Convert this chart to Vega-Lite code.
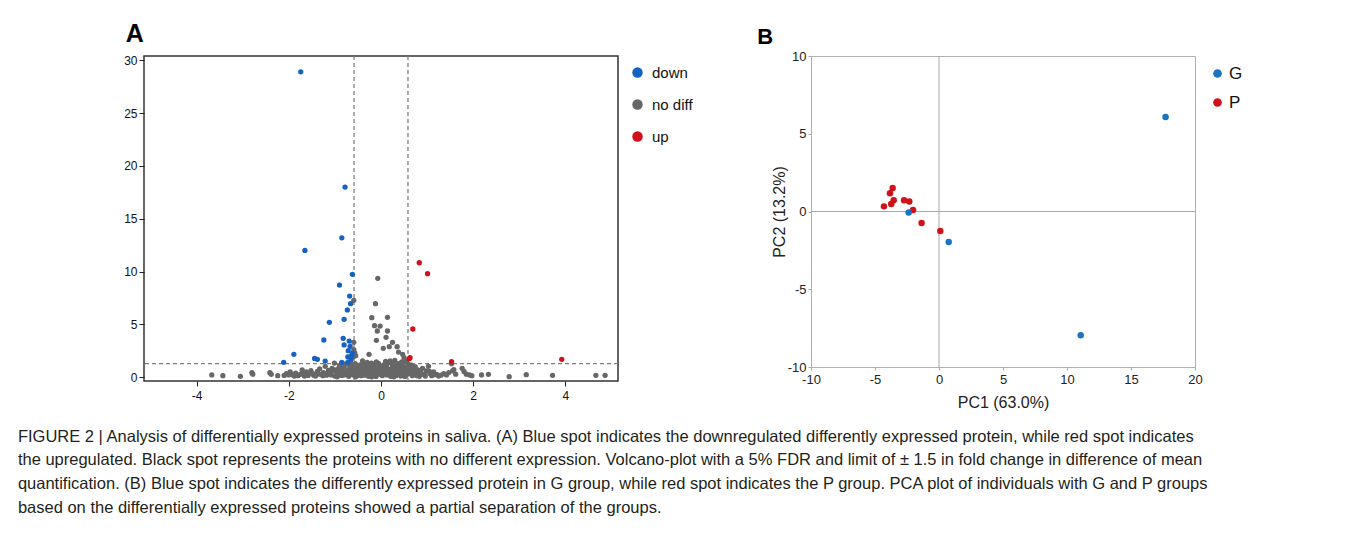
{
  "$schema": "https://vega.github.io/schema/vega-lite/v6.json",
  "background": "white",
  "padding": {"left": 17, "top": 21, "right": 5, "bottom": 5},
  "config": {
    "font": "Liberation Sans",
    "axis": {"grid": false, "domain": false, "labelFlush": false, "labelFont": "Liberation Sans", "titleFont": "Liberation Sans", "labelExpr": "replace(datum.label, '\u2212', '-')"},
    "legend": {"labelFont": "Liberation Sans"}
  },
  "datasets": {
    "volcano": [
      {"x": -3.67, "y": 0.22, "g": "no diff"}, {"x": -3.43, "y": 0.15, "g": "no diff"}, {"x": -3.05, "y": 0.09, "g": "no diff"}, {"x": -2.8, "y": 0.44, "g": "no diff"}, {"x": -2.78, "y": 0.3, "g": "no diff"}, {"x": -2.41, "y": 0.44, "g": "no diff"}, {"x": -2.38, "y": 0.28, "g": "no diff"}, {"x": -2.24, "y": 0.15, "g": "no diff"}, {"x": -2.1, "y": 0.18, "g": "no diff"}, {"x": -2.05, "y": 0.35, "g": "no diff"}, {"x": -1.97, "y": 0.5, "g": "no diff"}, {"x": -1.92, "y": 0.25, "g": "no diff"}, {"x": -1.85, "y": 0.4, "g": "no diff"}, {"x": -1.8, "y": 0.15, "g": "no diff"}, {"x": -1.71, "y": 0.69, "g": "no diff"}, {"x": -1.68, "y": 0.3, "g": "no diff"}, {"x": -1.62, "y": 0.5, "g": "no diff"}, {"x": -1.58, "y": 0.18, "g": "no diff"}, {"x": -1.52, "y": 0.62, "g": "no diff"}, {"x": -1.48, "y": 0.35, "g": "no diff"}, {"x": -1.42, "y": 0.12, "g": "no diff"}, {"x": -1.38, "y": 0.55, "g": "no diff"}, {"x": -1.33, "y": 0.8, "g": "no diff"}, {"x": -1.3, "y": 0.28, "g": "no diff"}, {"x": -1.25, "y": 0.45, "g": "no diff"}, {"x": -1.21, "y": 1.04, "g": "no diff"}, {"x": -1.18, "y": 0.2, "g": "no diff"}, {"x": -1.14, "y": 0.65, "g": "no diff"}, {"x": -1.1, "y": 0.38, "g": "no diff"}, {"x": -1.06, "y": 0.85, "g": "no diff"}, {"x": -1.01, "y": 1.35, "g": "no diff"}, {"x": -1.0, "y": 0.12, "g": "no diff"}, {"x": -0.97, "y": 0.55, "g": "no diff"}, {"x": -0.93, "y": 0.3, "g": "no diff"}, {"x": -0.9, "y": 1.1, "g": "no diff"}, {"x": -0.88, "y": 0.72, "g": "no diff"}, {"x": -0.85, "y": 0.18, "g": "no diff"}, {"x": -0.82, "y": 0.48, "g": "no diff"}, {"x": -0.8, "y": 0.95, "g": "no diff"}, {"x": -0.77, "y": 1.25, "g": "no diff"}, {"x": -0.75, "y": 0.3, "g": "no diff"}, {"x": -0.73, "y": 0.62, "g": "no diff"}, {"x": -0.7, "y": 0.1, "g": "no diff"}, {"x": -0.68, "y": 0.85, "g": "no diff"}, {"x": -0.66, "y": 1.4, "g": "no diff"}, {"x": -0.64, "y": 0.42, "g": "no diff"}, {"x": -0.62, "y": 1.05, "g": "no diff"}, {"x": -0.6, "y": 0.22, "g": "no diff"}, {"x": -0.58, "y": 0.68, "g": "no diff"}, {"x": -0.56, "y": 1.3, "g": "no diff"}, {"x": -0.55, "y": 0.05, "g": "no diff"}, {"x": -0.53, "y": 0.5, "g": "no diff"}, {"x": -0.51, "y": 0.9, "g": "no diff"}, {"x": -0.49, "y": 0.28, "g": "no diff"}, {"x": -0.47, "y": 1.15, "g": "no diff"}, {"x": -0.45, "y": 0.7, "g": "no diff"}, {"x": -0.43, "y": 0.15, "g": "no diff"}, {"x": -0.41, "y": 0.4, "g": "no diff"}, {"x": -0.39, "y": 1.0, "g": "no diff"}, {"x": -0.37, "y": 0.58, "g": "no diff"}, {"x": -0.35, "y": 0.2, "g": "no diff"}, {"x": -0.33, "y": 1.25, "g": "no diff"}, {"x": -0.31, "y": 0.8, "g": "no diff"}, {"x": -0.29, "y": 0.35, "g": "no diff"}, {"x": -0.27, "y": 0.1, "g": "no diff"}, {"x": -0.25, "y": 0.95, "g": "no diff"}, {"x": -0.23, "y": 0.55, "g": "no diff"}, {"x": -0.21, "y": 1.35, "g": "no diff"}, {"x": -0.19, "y": 0.25, "g": "no diff"}, {"x": -0.17, "y": 0.75, "g": "no diff"}, {"x": -0.15, "y": 1.1, "g": "no diff"}, {"x": -0.13, "y": 0.45, "g": "no diff"}, {"x": -0.11, "y": 0.08, "g": "no diff"}, {"x": -0.09, "y": 0.88, "g": "no diff"}, {"x": -0.07, "y": 0.62, "g": "no diff"}, {"x": -0.05, "y": 1.3, "g": "no diff"}, {"x": -0.03, "y": 0.3, "g": "no diff"}, {"x": -0.01, "y": 1.05, "g": "no diff"}, {"x": 0.01, "y": 0.5, "g": "no diff"}, {"x": 0.03, "y": 0.15, "g": "no diff"}, {"x": 0.05, "y": 0.78, "g": "no diff"}, {"x": 0.07, "y": 1.2, "g": "no diff"}, {"x": 0.09, "y": 0.38, "g": "no diff"}, {"x": 0.11, "y": 0.95, "g": "no diff"}, {"x": 0.13, "y": 0.22, "g": "no diff"}, {"x": 0.15, "y": 0.65, "g": "no diff"}, {"x": 0.17, "y": 1.4, "g": "no diff"}, {"x": 0.19, "y": 0.48, "g": "no diff"}, {"x": 0.21, "y": 0.1, "g": "no diff"}, {"x": 0.23, "y": 0.85, "g": "no diff"}, {"x": 0.25, "y": 1.15, "g": "no diff"}, {"x": 0.27, "y": 0.3, "g": "no diff"}, {"x": 0.29, "y": 0.6, "g": "no diff"}, {"x": 0.31, "y": 1.0, "g": "no diff"}, {"x": 0.33, "y": 0.18, "g": "no diff"}, {"x": 0.35, "y": 0.75, "g": "no diff"}, {"x": 0.37, "y": 1.3, "g": "no diff"}, {"x": 0.39, "y": 0.42, "g": "no diff"}, {"x": 0.41, "y": 0.9, "g": "no diff"}, {"x": 0.43, "y": 0.12, "g": "no diff"}, {"x": 0.45, "y": 0.55, "g": "no diff"}, {"x": 0.47, "y": 1.1, "g": "no diff"}, {"x": 0.49, "y": 0.28, "g": "no diff"}, {"x": 0.51, "y": 0.7, "g": "no diff"}, {"x": 0.53, "y": 0.95, "g": "no diff"}, {"x": 0.55, "y": 0.2, "g": "no diff"}, {"x": 0.57, "y": 0.5, "g": "no diff"}, {"x": 0.59, "y": 1.25, "g": "no diff"}, {"x": 0.62, "y": 0.35, "g": "no diff"}, {"x": 0.65, "y": 0.8, "g": "no diff"}, {"x": 0.68, "y": 0.15, "g": "no diff"}, {"x": 0.71, "y": 0.6, "g": "no diff"}, {"x": 0.74, "y": 1.0, "g": "no diff"}, {"x": 0.77, "y": 0.3, "g": "no diff"}, {"x": 0.8, "y": 0.7, "g": "no diff"}, {"x": 0.83, "y": 0.1, "g": "no diff"}, {"x": 0.86, "y": 0.48, "g": "no diff"}, {"x": 0.9, "y": 0.85, "g": "no diff"}, {"x": 0.94, "y": 0.25, "g": "no diff"}, {"x": 0.98, "y": 0.6, "g": "no diff"}, {"x": 1.03, "y": 1.04, "g": "no diff"}, {"x": 1.06, "y": 0.35, "g": "no diff"}, {"x": 1.1, "y": 0.15, "g": "no diff"}, {"x": 1.14, "y": 0.5, "g": "no diff"}, {"x": 1.18, "y": 0.25, "g": "no diff"}, {"x": 1.21, "y": 0.28, "g": "no diff"}, {"x": 1.25, "y": 0.12, "g": "no diff"}, {"x": 1.3, "y": 0.2, "g": "no diff"}, {"x": 1.36, "y": 0.35, "g": "no diff"}, {"x": 1.42, "y": 0.22, "g": "no diff"}, {"x": 1.47, "y": 0.45, "g": "no diff"}, {"x": 1.53, "y": 1.29, "g": "no diff"}, {"x": 1.55, "y": 0.6, "g": "no diff"}, {"x": 1.58, "y": 0.72, "g": "no diff"}, {"x": 1.62, "y": 0.3, "g": "no diff"}, {"x": 1.76, "y": 0.85, "g": "no diff"}, {"x": 1.8, "y": 0.55, "g": "no diff"}, {"x": 1.85, "y": 0.3, "g": "no diff"}, {"x": 1.92, "y": 0.22, "g": "no diff"}, {"x": 1.97, "y": 0.15, "g": "no diff"}, {"x": 2.18, "y": 0.22, "g": "no diff"}, {"x": 2.33, "y": 0.28, "g": "no diff"}, {"x": 2.78, "y": 0.06, "g": "no diff"}, {"x": 3.15, "y": 0.25, "g": "no diff"}, {"x": 3.72, "y": 0.19, "g": "no diff"}, {"x": 4.66, "y": 0.19, "g": "no diff"}, {"x": 4.86, "y": 0.19, "g": "no diff"},
      {"x": -0.95, "y": 0.05, "g": "no diff"}, {"x": -0.87, "y": 0.4, "g": "no diff"}, {"x": -0.79, "y": 0.22, "g": "no diff"}, {"x": -0.71, "y": 0.5, "g": "no diff"}, {"x": -0.63, "y": 0.78, "g": "no diff"}, {"x": -0.52, "y": 0.15, "g": "no diff"}, {"x": -0.44, "y": 0.95, "g": "no diff"}, {"x": -0.36, "y": 0.48, "g": "no diff"}, {"x": -0.28, "y": 0.7, "g": "no diff"}, {"x": -0.2, "y": 0.05, "g": "no diff"}, {"x": -0.12, "y": 0.3, "g": "no diff"}, {"x": -0.04, "y": 0.7, "g": "no diff"}, {"x": 0.04, "y": 0.4, "g": "no diff"}, {"x": 0.12, "y": 1.1, "g": "no diff"}, {"x": 0.2, "y": 0.32, "g": "no diff"}, {"x": 0.28, "y": 0.05, "g": "no diff"}, {"x": 0.36, "y": 0.55, "g": "no diff"}, {"x": 0.44, "y": 0.3, "g": "no diff"}, {"x": 0.52, "y": 0.08, "g": "no diff"}, {"x": 0.6, "y": 0.65, "g": "no diff"}, {"x": -0.98, "y": 0.7, "g": "no diff"}, {"x": -1.08, "y": 0.22, "g": "no diff"}, {"x": -1.16, "y": 0.4, "g": "no diff"}, {"x": -1.26, "y": 0.15, "g": "no diff"}, {"x": -1.36, "y": 0.3, "g": "no diff"}, {"x": -1.46, "y": 0.2, "g": "no diff"}, {"x": -1.56, "y": 0.4, "g": "no diff"}, {"x": -1.66, "y": 0.12, "g": "no diff"}, {"x": -1.75, "y": 0.28, "g": "no diff"}, {"x": -1.88, "y": 0.12, "g": "no diff"}, {"x": -2.0, "y": 0.22, "g": "no diff"}, {"x": 0.7, "y": 0.4, "g": "no diff"}, {"x": 0.78, "y": 0.15, "g": "no diff"}, {"x": 0.88, "y": 0.3, "g": "no diff"}, {"x": 0.96, "y": 0.12, "g": "no diff"}, {"x": 1.05, "y": 0.55, "g": "no diff"}, {"x": 1.12, "y": 0.38, "g": "no diff"}, {"x": 0.66, "y": 1.15, "g": "no diff"}, {"x": 0.58, "y": 0.9, "g": "no diff"}, {"x": -0.6, "y": 0.95, "g": "no diff"}, {"x": -0.69, "y": 1.2, "g": "no diff"}, {"x": -0.84, "y": 1.05, "g": "no diff"}, {"x": -0.92, "y": 0.85, "g": "no diff"}, {"x": -1.03, "y": 0.6, "g": "no diff"}, {"x": -0.4, "y": 1.25, "g": "no diff"}, {"x": -0.3, "y": 1.05, "g": "no diff"}, {"x": -0.16, "y": 1.25, "g": "no diff"}, {"x": 0.0, "y": 0.95, "g": "no diff"}, {"x": 0.14, "y": 0.8, "g": "no diff"}, {"x": 0.26, "y": 1.3, "g": "no diff"}, {"x": 0.4, "y": 1.2, "g": "no diff"}, {"x": 0.48, "y": 0.8, "g": "no diff"},
      {"x": -0.07, "y": 9.36, "g": "no diff"}, {"x": -0.12, "y": 6.97, "g": "no diff"}, {"x": -0.59, "y": 7.28, "g": "no diff"}, {"x": -0.2, "y": 5.64, "g": "no diff"}, {"x": 0.14, "y": 5.67, "g": "no diff"}, {"x": -0.14, "y": 4.88, "g": "no diff"}, {"x": -0.02, "y": 4.85, "g": "no diff"}, {"x": -0.08, "y": 4.38, "g": "no diff"}, {"x": 0.14, "y": 4.38, "g": "no diff"}, {"x": 0.11, "y": 3.78, "g": "no diff"}, {"x": -0.1, "y": 3.5, "g": "no diff"}, {"x": -0.59, "y": 3.31, "g": "no diff"}, {"x": 0.25, "y": 3.31, "g": "no diff"}, {"x": 0.18, "y": 2.9, "g": "no diff"}, {"x": 0.05, "y": 2.74, "g": "no diff"}, {"x": 0.35, "y": 2.9, "g": "no diff"}, {"x": -0.59, "y": 2.61, "g": "no diff"}, {"x": -0.57, "y": 2.3, "g": "no diff"}, {"x": -0.26, "y": 2.17, "g": "no diff"}, {"x": 0.38, "y": 2.39, "g": "no diff"}, {"x": 0.47, "y": 2.17, "g": "no diff"}, {"x": -0.55, "y": 2.05, "g": "no diff"}, {"x": -0.6, "y": 1.95, "g": "no diff"}, {"x": 0.5, "y": 1.85, "g": "no diff"}, {"x": 0.3, "y": 1.6, "g": "no diff"}, {"x": -0.4, "y": 1.55, "g": "no diff"}, {"x": 0.1, "y": 1.5, "g": "no diff"}, {"x": -0.1, "y": 1.45, "g": "no diff"}, {"x": 0.45, "y": 1.45, "g": "no diff"}, {"x": 0.2, "y": 1.55, "g": "no diff"}, {"x": -0.3, "y": 1.4, "g": "no diff"}, {"x": 0.55, "y": 1.5, "g": "no diff"},
      {"x": -1.74, "y": 28.9, "g": "down"}, {"x": -0.78, "y": 18.0, "g": "down"}, {"x": -0.85, "y": 13.2, "g": "down"}, {"x": -1.65, "y": 12.0, "g": "down"}, {"x": -0.62, "y": 9.74, "g": "down"}, {"x": -0.9, "y": 8.73, "g": "down"}, {"x": -0.68, "y": 7.69, "g": "down"}, {"x": -0.66, "y": 6.97, "g": "down"}, {"x": -0.73, "y": 6.37, "g": "down"}, {"x": -0.8, "y": 5.49, "g": "down"}, {"x": -1.12, "y": 5.2, "g": "down"}, {"x": -1.24, "y": 3.53, "g": "down"}, {"x": -0.82, "y": 3.69, "g": "down"}, {"x": -0.69, "y": 3.43, "g": "down"}, {"x": -0.8, "y": 3.06, "g": "down"}, {"x": -0.67, "y": 2.93, "g": "down"}, {"x": -0.71, "y": 2.52, "g": "down"}, {"x": -1.89, "y": 2.17, "g": "down"}, {"x": -0.62, "y": 2.27, "g": "down"}, {"x": -0.72, "y": 1.92, "g": "down"}, {"x": -1.44, "y": 1.79, "g": "down"}, {"x": -1.38, "y": 1.7, "g": "down"}, {"x": -1.21, "y": 1.54, "g": "down"}, {"x": -2.11, "y": 1.42, "g": "down"}, {"x": -0.85, "y": 1.42, "g": "down"}, {"x": -0.72, "y": 1.42, "g": "down"}, {"x": -0.65, "y": 1.73, "g": "down"}, {"x": -0.64, "y": 2.05, "g": "down"},
      {"x": 0.83, "y": 10.84, "g": "up"}, {"x": 1.01, "y": 9.8, "g": "up"}, {"x": 0.69, "y": 4.57, "g": "up"}, {"x": 0.63, "y": 1.86, "g": "up"}, {"x": 0.61, "y": 1.75, "g": "up"}, {"x": 1.53, "y": 1.48, "g": "up"}, {"x": 3.92, "y": 1.7, "g": "up"}
    ],
    "pca": [
      {"pc1": -4.3, "pc2": 0.33, "grp": "P"}, {"pc1": -3.73, "pc2": 0.48, "grp": "P"}, {"pc1": -3.83, "pc2": 1.17, "grp": "P"}, {"pc1": -3.62, "pc2": 1.51, "grp": "P"}, {"pc1": -3.54, "pc2": 0.72, "grp": "P"}, {"pc1": -2.73, "pc2": 0.72, "grp": "P"}, {"pc1": -2.32, "pc2": 0.64, "grp": "P"}, {"pc1": -2.03, "pc2": 0.1, "grp": "P"}, {"pc1": -1.36, "pc2": -0.74, "grp": "P"}, {"pc1": 0.1, "pc2": -1.25, "grp": "P"},
      {"pc1": -2.37, "pc2": -0.07, "grp": "G"}, {"pc1": 0.76, "pc2": -1.96, "grp": "G"}, {"pc1": 17.7, "pc2": 6.08, "grp": "G"}, {"pc1": 11.07, "pc2": -7.96, "grp": "G"}
    ]
  },
  "title": {
    "text": [
      "FIGURE 2 | Analysis of differentially expressed proteins in saliva. (A) Blue spot indicates the downregulated differently expressed protein, while red spot indicates",
      "the upregulated. Black spot represents the proteins with no different expression. Volcano-plot with a 5% FDR and limit of ± 1.5 in fold change in difference of mean",
      "quantification. (B) Blue spot indicates the differently expressed protein in G group, while red spot indicates the P group. PCA plot of individuals with G and P groups",
      "based on the differentially expressed proteins showed a partial separation of the groups."
    ],
    "orient": "bottom",
    "anchor": "start",
    "font": "Liberation Sans",
    "fontSize": 16.5,
    "fontWeight": "normal",
    "color": "#231f20",
    "lineHeight": 23.8,
    "dx": -105,
    "offset": 18
  },
  "spacing": 53,
  "resolve": {"scale": {"color": "independent"}, "legend": {"color": "independent"}},
  "hconcat": [
    {
      "width": 474,
      "height": 325,
      "title": {"text": "A", "anchor": "start", "fontSize": 25, "fontWeight": "bold", "color": "#000", "dx": 2, "offset": 7},
      "view": {"stroke": "#333", "strokeWidth": 1.5},
      "layer": [
        {"data": {"values": [{}]}, "mark": {"type": "rule", "strokeDash": [4, 3], "color": "#808080", "strokeWidth": 1.3}, "encoding": {"x": {"datum": -0.585, "type": "quantitative"}}},
        {"data": {"values": [{}]}, "mark": {"type": "rule", "strokeDash": [4, 3], "color": "#808080", "strokeWidth": 1.3}, "encoding": {"x": {"datum": 0.585, "type": "quantitative"}}},
        {"data": {"values": [{}]}, "mark": {"type": "rule", "strokeDash": [4, 3], "color": "#808080", "strokeWidth": 1.3}, "encoding": {"y": {"datum": 1.3, "type": "quantitative"}}},
        {
          "data": {"name": "volcano"},
          "mark": {"type": "point", "filled": true, "size": 28, "opacity": 1},
          "encoding": {
            "x": {"field": "x", "type": "quantitative", "scale": {"domain": [-5.14, 5.14], "nice": false, "zero": false},
                  "axis": {"values": [-4, -2, 0, 2, 4], "title": null, "tickSize": 5, "tickColor": "#222", "labelFontSize": 12, "labelColor": "#111", "labelPadding": 4}},
            "y": {"field": "y", "type": "quantitative", "scale": {"domain": [-0.35, 30.4], "nice": false, "zero": false},
                  "axis": {"values": [0, 5, 10, 15, 20, 25, 30], "title": null, "tickSize": 5, "tickColor": "#222", "labelFontSize": 12, "labelColor": "#111", "labelPadding": 2}},
            "color": {"field": "g", "type": "nominal", "scale": {"domain": ["down", "no diff", "up"], "range": ["#1761c1", "#676767", "#d0111b"]},
                      "legend": {"title": null, "orient": "right", "offset": 3, "padding": 9, "symbolType": "circle", "symbolSize": 110, "symbolStrokeWidth": 0, "labelFontSize": 15, "labelColor": "#111", "labelOffset": 7, "rowPadding": 16}}
          }
        }
      ]
    },
    {
      "width": 384,
      "height": 311,
      "title": {"text": "B", "anchor": "start", "fontSize": 22, "fontWeight": "bold", "color": "#000", "dx": -14, "offset": 1},
      "view": {"stroke": "#b0b0b0", "strokeWidth": 1},
      "layer": [
        {"data": {"values": [{}]}, "mark": {"type": "rule", "color": "#a8a8a8", "strokeWidth": 1}, "encoding": {"x": {"datum": 0, "type": "quantitative"}}},
        {"data": {"values": [{}]}, "mark": {"type": "rule", "color": "#a8a8a8", "strokeWidth": 1}, "encoding": {"y": {"datum": 0, "type": "quantitative"}}},
        {
          "data": {"name": "pca"},
          "mark": {"type": "point", "filled": true, "size": 42, "opacity": 1},
          "encoding": {
            "x": {"field": "pc1", "type": "quantitative", "scale": {"domain": [-10, 20], "nice": false, "zero": false},
                  "axis": {"values": [-10, -5, 0, 5, 10, 15, 20], "title": "PC1 (63.0%)", "titleFontSize": 16, "titleFontWeight": "normal", "titleColor": "#222", "titlePadding": 8, "tickSize": 3, "tickColor": "#aaa", "labelFontSize": 13, "labelColor": "#222", "labelPadding": 3}},
            "y": {"field": "pc2", "type": "quantitative", "scale": {"domain": [-10, 10], "nice": false, "zero": false},
                  "axis": {"values": [-10, -5, 0, 5, 10], "title": "PC2 (13.2%)", "titleFontSize": 16, "titleFontWeight": "normal", "titleColor": "#222", "titlePadding": 0, "tickSize": 3, "tickColor": "#aaa", "labelFontSize": 13, "labelColor": "#222", "labelPadding": 2}},
            "color": {"field": "grp", "type": "nominal", "scale": {"domain": ["G", "P"], "range": ["#1b74bd", "#d1111a"]},
                      "legend": {"title": null, "orient": "right", "offset": 5, "padding": 9, "symbolType": "circle", "symbolSize": 75, "symbolStrokeWidth": 0, "labelFontSize": 17, "labelColor": "#111", "labelOffset": 3, "rowPadding": 11}}
          }
        }
      ]
    }
  ]
}
